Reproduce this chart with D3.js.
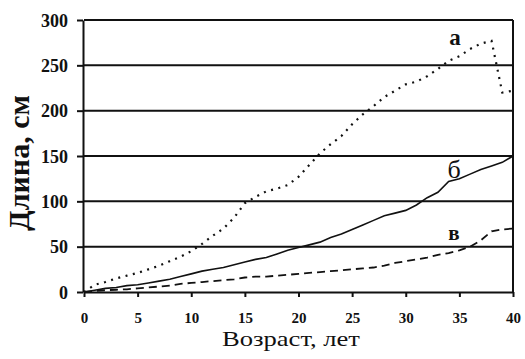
<!DOCTYPE html>
<html>
<head>
<meta charset="utf-8">
<script src="https://cdn.jsdelivr.net/npm/d3@7"></script>
<style>
  body { margin: 0; background: #fff; }
  svg { display: block; }
  svg text { font-family: "Liberation Serif", "Times New Roman", "DejaVu Serif", serif; }
</style>
</head>
<body>
<svg id="chart" width="525" height="359"></svg>
<script>
const years = d3.range(0, 41);
// а — верхняя кривая (точки)
const seriesA = [0, 8, 11, 15, 18, 21, 25, 29, 34, 39, 45, 53, 62, 70, 82, 98, 105, 111, 114, 118,
  127, 140, 153, 163, 172, 185, 196, 205, 215, 222, 229, 232, 238, 246, 255, 260, 268, 274, 277, 220, 222];
// б — средняя кривая (сплошная)
const seriesB = [0, 2, 4, 5, 7, 8, 10, 12, 14, 17, 20, 23, 25, 27, 30, 33, 36, 38, 42, 46,
  49, 52, 55, 60, 64, 69, 74, 79, 84, 87, 90, 96, 104, 110, 122, 125, 130, 135, 139, 143, 150];
// в — нижняя кривая (штрих)
const seriesC = [0, 1, 2, 2.5, 3, 4, 5, 6, 7, 9, 10, 11, 12, 13, 14, 16, 17, 17, 18, 19,
  20, 21, 22, 23, 24, 25, 26, 27, 29, 32, 34, 36, 38, 41, 43, 46, 50, 57, 67, 69, 70];
const xTicks = [0, 5, 10, 15, 20, 25, 30, 35, 40];
const yTicks = [0, 50, 100, 150, 200, 250, 300];
const curveNames = ["а", "б", "в"];
const namePos = [[34.6, 272], [34.5, 126], [34.5, 57]];

const svg = d3.select("#chart");
const serif = "Liberation Serif";

const x = d3.scaleLinear().domain([0, 40]).range([84, 513]);
const y = d3.scaleLinear().domain([0, 300]).range([292, 20]);

// сетка
svg.append("g")
  .selectAll("line")
  .data(yTicks.filter(d => d > 0))
  .join("line")
  .attr("x1", x(0)).attr("x2", x(40))
  .attr("y1", d => y(d)).attr("y2", d => y(d))
  .attr("stroke", "#111")
  .attr("stroke-width", 2);

// правая граница
svg.append("line")
  .attr("x1", x(40)).attr("x2", x(40))
  .attr("y1", y(300)).attr("y2", y(0))
  .attr("stroke", "#111")
  .attr("stroke-width", 2);

// Оси
const yAxis = svg.append("g")
  .attr("transform", `translate(${x(0) - 1},0)`)
  .call(d3.axisLeft(y).tickValues(yTicks).tickSize(6).tickSizeOuter(0).tickPadding(9));
yAxis.attr("font-family", serif);
yAxis.select(".domain").attr("stroke", "#111").attr("stroke-width", 2);
yAxis.selectAll(".tick line").attr("stroke", "#111").attr("stroke-width", 2);
yAxis.selectAll("text")
  .attr("dy", "0.34em")
  .attr("font-family", serif)
  .style("font-size", "18px")
  .style("font-weight", "bold")
  .attr("fill", "#111");

const xAxis = svg.append("g")
  .attr("transform", `translate(0,${y(0)})`)
  .call(d3.axisBottom(x).tickValues(xTicks).tickSize(5).tickSizeOuter(0).tickPadding(15));
xAxis.attr("font-family", serif);
xAxis.select(".domain").attr("stroke", "#111").attr("stroke-width", 2);
xAxis.selectAll(".tick line").attr("stroke", "#111").attr("stroke-width", 2);
xAxis.selectAll("text")
  .attr("font-family", serif)
  .style("font-size", "15px")
  .style("font-weight", "bold")
  .attr("fill", "#111");

// подписи осей
svg.append("text")
  .attr("x", 291)
  .attr("y", 346)
  .attr("text-anchor", "middle")
  .attr("textLength", 138)
  .attr("lengthAdjust", "spacingAndGlyphs")
  .attr("font-family", serif)
  .style("font-size", "22px")
  .attr("fill", "#111")
  .text("Возраст, лет");

svg.append("text")
  .attr("transform", "translate(29,163) rotate(-90)")
  .attr("text-anchor", "middle")
  .attr("font-family", serif)
  .style("font-size", "30px")
  .style("font-weight", "bold")
  .attr("fill", "#111")
  .text("Длина, см");

// линии
const line = d3.line()
  .x((d, i) => x(years[i]))
  .y(d => y(d));

svg.append("path")
  .datum(seriesA)
  .attr("fill", "none")
  .attr("stroke", "#111")
  .attr("stroke-width", 2.2)
  .attr("stroke-dasharray", "2,5.5")
  .attr("d", line);

svg.append("path")
  .datum(seriesB)
  .attr("fill", "none")
  .attr("stroke", "#111")
  .attr("stroke-width", 1.6)
  .attr("d", line);

svg.append("path")
  .datum(seriesC)
  .attr("fill", "none")
  .attr("stroke", "#111")
  .attr("stroke-width", 1.8)
  .attr("stroke-dasharray", "8,5")
  .attr("d", line);

// подписи кривых
const nameStyle = [
  { size: "23px", weight: "bold" },
  { size: "26px", weight: "normal" },
  { size: "21px", weight: "bold" }
];
curveNames.forEach((n, i) => {
  svg.append("text")
    .attr("x", x(namePos[i][0]))
    .attr("y", y(namePos[i][1]))
    .attr("text-anchor", "middle")
    .attr("font-family", serif)
    .style("font-size", nameStyle[i].size)
    .style("font-weight", nameStyle[i].weight)
    .attr("fill", "#111")
    .text(n);
});
</script>
</body>
</html>
